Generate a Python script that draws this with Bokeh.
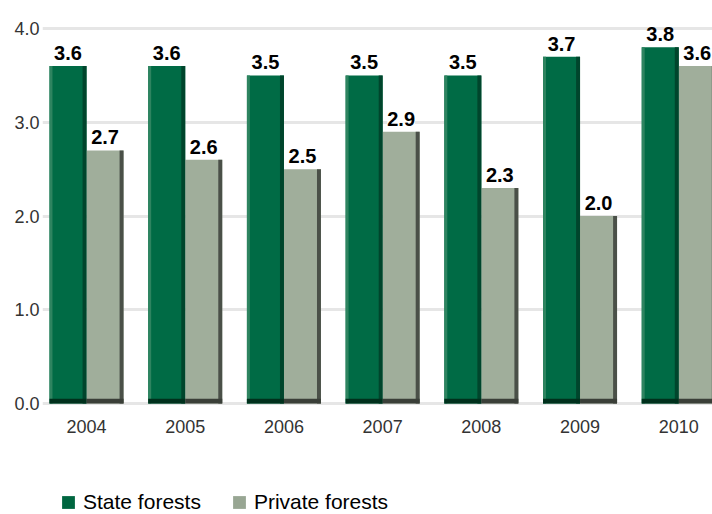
from bokeh.plotting import figure
from bokeh.layouts import column
from bokeh.models import Range1d, Legend, LegendItem, ColumnDataSource, FixedTicker, LabelSet, CustomJSTickFormatter
from bokeh.transform import dodge
from bokeh.core.properties import value
from bokeh.embed import file_html
from bokeh.resources import INLINE

years = ["2004", "2005", "2006", "2007", "2008", "2009", "2010"]
state = [3.6, 3.6, 3.5, 3.5, 3.5, 3.7, 3.8]
private = [2.7, 2.6, 2.5, 2.9, 2.3, 2.0, 3.6]
y_ticks = [0.0, 1.0, 2.0, 3.0, 4.0]
series_names = ["State forests", "Private forests"]

STATE_C = "#006b45"
PRIV_C = "#a0ae9b"
FONT = "Liberation Sans"

idx = list(range(len(years)))
src = ColumnDataSource(dict(
    x=idx, state=state, private=private,
    state_lbl=[f"{v:.1f}" for v in state],
    private_lbl=[f"{v:.1f}" for v in private],
))

MAIN_H = 470
p = figure(width=712, height=MAIN_H, output_backend="svg", toolbar_location=None,
           x_range=Range1d(-0.446, 6.342), y_range=Range1d(-0.053, 4.107),
           min_border_left=42, min_border_right=0, min_border_top=18,
           min_border_bottom=MAIN_H - 408)
p.outline_line_color = None
p.background_fill_color = "white"
p.border_fill_color = "white"

bw = 0.375
off = bw / 2
p.vbar(x=dodge("x", -off, range=p.x_range), top="state", width=bw, source=src,
       fill_color=STATE_C, line_color=None)
p.vbar(x=dodge("x", off, range=p.x_range), top="private", width=bw, source=src,
       fill_color=PRIV_C, line_color=None)
# shading (edges)
p.vbar(x=dodge("x", -off + bw / 2 - 0.02, range=p.x_range), top="state", width=0.04, source=src,
       fill_color="#00452c", line_color=None)
p.vbar(x=dodge("x", -off - bw / 2 + 0.015, range=p.x_range), top="state", width=0.03, source=src,
       fill_color="#2e8460", line_color=None)
p.vbar(x=dodge("x", off + bw / 2 - 0.02, range=p.x_range), top="private", width=0.04, source=src,
       fill_color="#4a5048", line_color=None)
p.vbar(x=dodge("x", -off, range=p.x_range), top=0.05, bottom=0, width=bw, source=src,
       fill_color="#00301c", line_color=None)
p.vbar(x=dodge("x", off, range=p.x_range), top=0.05, bottom=0, width=bw, source=src,
       fill_color="#3a3f38", line_color=None)

ls1 = LabelSet(x=dodge("x", -off, range=p.x_range), y="state", text="state_lbl", source=src,
               y_offset=6, text_align="center", text_baseline="bottom",
               text_font=value(FONT), text_font_size="20px", text_font_style="bold",
               text_color="black")
ls2 = LabelSet(x=dodge("x", off, range=p.x_range), y="private", text="private_lbl", source=src,
               y_offset=6, text_align="center", text_baseline="bottom",
               text_font=value(FONT), text_font_size="20px", text_font_style="bold",
               text_color="black", background_fill_color="white")
p.add_layout(ls1)
p.add_layout(ls2)

p.xgrid.grid_line_color = None
p.ygrid.grid_line_color = "#e6e6e6"
p.ygrid.grid_line_width = 3
p.yaxis.ticker = FixedTicker(ticks=y_ticks)
p.yaxis.formatter = CustomJSTickFormatter(code="return tick.toFixed(1);")
p.xaxis.ticker = FixedTicker(ticks=idx)
p.xaxis.major_label_overrides = {i: y for i, y in enumerate(years)}

for ax in (p.xaxis, p.yaxis):
    ax.axis_line_color = None
    ax.major_tick_line_color = None
    ax.minor_tick_line_color = None
    ax.major_tick_out = 0
    ax.major_tick_in = 0
    ax.major_label_text_font = FONT
    ax.major_label_text_color = "#333333"
p.yaxis.major_label_text_font_size = "18px"
p.yaxis.major_label_standoff = 3
p.xaxis.major_label_text_font_size = "18px"
p.xaxis.major_label_standoff = 11

# legend strip
LEG_H = 514 - MAIN_H
q = figure(width=712, height=LEG_H, output_backend="svg", toolbar_location=None,
           x_axis_type=None, y_axis_type=None, min_border=0,
           x_range=Range1d(0, 1), y_range=Range1d(0, 1))
q.outline_line_color = None
q.xgrid.grid_line_color = None
q.ygrid.grid_line_color = None
r1 = q.vbar(x=[10], top=[1], width=0.1, fill_color="#006640", line_color=None)
r2 = q.vbar(x=[10], top=[1], width=0.1, fill_color="#98a693", line_color=None)
legend = Legend(items=[LegendItem(label=series_names[0], renderers=[r1]),
                       LegendItem(label=series_names[1], renderers=[r2])],
                location=(18, 0), orientation="horizontal",
                label_text_font=FONT, label_text_font_size="21px", label_text_color="black",
                glyph_width=16, glyph_height=16, label_standoff=7, spacing=30,
                padding=0, margin=0, border_line_color=None, background_fill_alpha=0,
                label_height=16)
q.add_layout(legend, "center")

open("out.html", "w").write(file_html(column(p, q, spacing=0), INLINE))
